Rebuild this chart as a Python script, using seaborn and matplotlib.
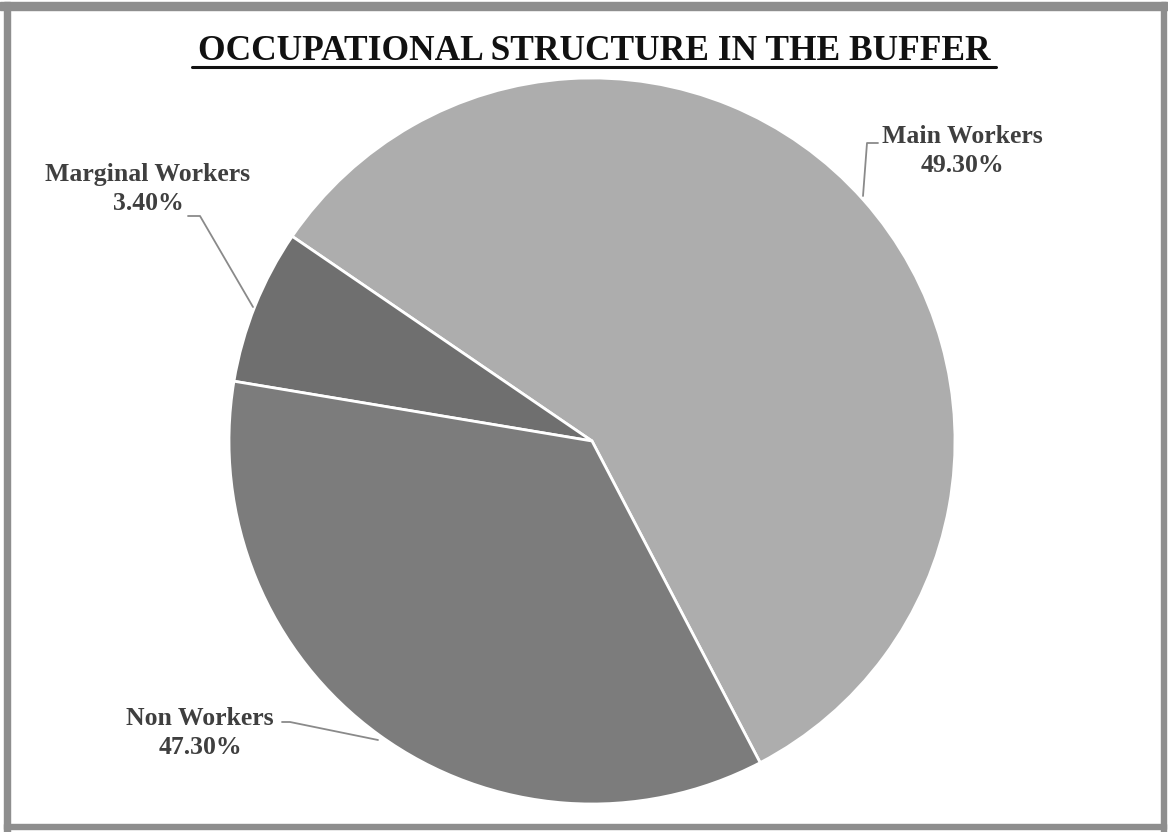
import matplotlib
matplotlib.use("Agg")
import matplotlib.pyplot as plt
import matplotlib.patches as mpatches
import seaborn as sns

sns.set_theme(style="white")
plt.rcParams['font.family'] = ['Liberation Serif', 'DejaVu Serif']

# ---- data ----
categories = ["Main Workers", "Marginal Workers", "Non Workers"]
label_pcts = ["49.30%", "3.40%", "47.30%"]          # printed labels
slice_shares = [57.8, 6.9, 35.3]                      # drawn wedge sizes
colors = ["#adadad", "#6f6f6f", "#7c7c7c"]
title = "OCCUPATIONAL STRUCTURE IN THE BUFFER"

W, H = 1168, 832
fig = plt.figure(figsize=(W / 100, H / 100), dpi=100)
ax = fig.add_axes([0, 0, 1, 1])

cx, cy, r = 592, H - 441, 363
wedges, _ = ax.pie(slice_shares, colors=colors, startangle=297.6, counterclock=True,
                   center=(cx, cy), radius=r, frame=True,
                   wedgeprops=dict(edgecolor="white", linewidth=2.0))
ax.set_xlim(0, W)
ax.set_ylim(0, H)
ax.set_aspect("equal")
ax.axis("off")

def Y(y):
    return H - y

txt_kw = dict(fontsize=18.5, fontweight="bold", color="#3f3f3f", ha="center",
              va="center", linespacing=1.35)
line_kw = dict(color="#8a8a8a", lw=1.3)

# Main Workers label
ax.text(962, Y(151), f"{categories[0]}\n{label_pcts[0]}", **txt_kw)
ax.plot([878, 867, 863], [Y(143), Y(143), Y(196)], **line_kw)

# Marginal Workers label
ax.text(148, Y(189), f"{categories[1]}\n{label_pcts[1]}", **txt_kw)
ax.plot([188, 200, 253], [Y(216), Y(216), Y(307)], **line_kw)

# Non Workers label
ax.text(200, Y(733), f"{categories[2]}\n{label_pcts[2]}", **txt_kw)
ax.plot([282, 290, 378], [Y(722), Y(722), Y(740)], **line_kw)

# Title with underline
ax.text(594, Y(51), title, fontsize=25.5, fontweight="bold", color="#111111",
        ha="center", va="center")
ax.plot([192, 996], [Y(67), Y(67)], color="#111111", lw=2.2)

# Frame
border = "#8e8e8e"
fig.patches.append(mpatches.Rectangle((0, 1 - 10 / H), 1, 8 / H, transform=fig.transFigure,
                                      color=border, zorder=0))
fig.patches.append(mpatches.Rectangle((4 / W, 0), 6 / W, 1 - 2 / H, transform=fig.transFigure,
                                      color=border, zorder=0))
fig.patches.append(mpatches.Rectangle((1161 / W, 0), 5 / W, 1 - 2 / H, transform=fig.transFigure,
                                      color=border, zorder=0))
fig.patches.append(mpatches.Rectangle((4 / W, 3 / H), 1162 / W, 5 / H, transform=fig.transFigure,
                                      color=border, zorder=0))

fig.savefig("out.png", dpi=100, facecolor="white")
